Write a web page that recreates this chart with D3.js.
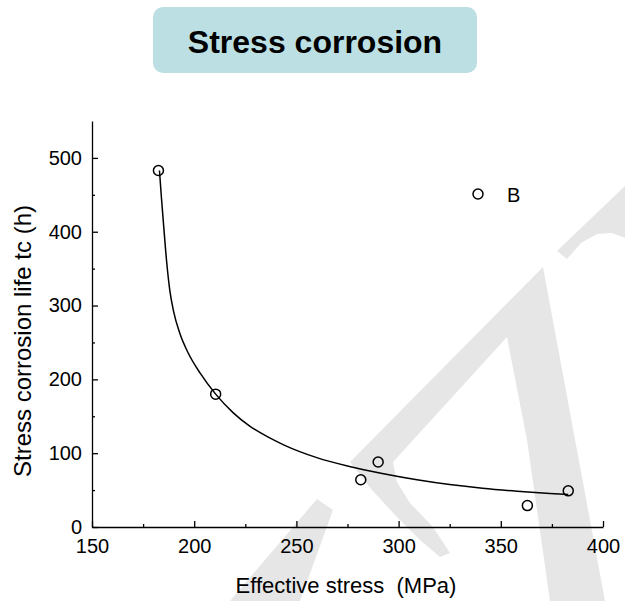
<!DOCTYPE html>
<html>
<head>
<meta charset="utf-8">
<script src="https://cdn.jsdelivr.net/npm/d3@7"></script>
<style>
  body { margin: 0; background: #fff; }
  svg text { font-family: "Liberation Sans", Arial, sans-serif; fill: #000; }
</style>
</head>
<body>
<div id="chart"></div>
<script>
// measured points (Effective stress MPa, life h)
let stressPts = [182.5, 210.5, 281.5, 290, 363, 383];
let lifePts = [483, 180, 64, 88, 29, 49];

// fitted curve
let fitStress = [183, 184, 185, 186.5, 188, 190, 193, 197, 203, 210.5, 219, 227, 236, 244, 260, 276, 292, 309, 325, 341, 358, 374, 383];
let fitLife = [483, 445, 410, 360, 322, 291, 262, 236, 208, 180, 155, 137, 122, 111, 94, 82, 72.5, 64, 57.5, 52.5, 48.5, 45.5, 44];

let xTicks = [150, 200, 250, 300, 350, 400];
let yTicks = [0, 100, 200, 300, 400, 500];
let legendName = "B";

let svg = d3.select("#chart")
	.append("svg")
	.attr("width", 625)
	.attr("height", 601);

//background watermark shapes
let wm = svg.append("g").attr("fill", "#e6e6e6");
let wmShapes = [
	[[605,601],[543,267],[350,462],[372,490],[395,515],[420,540],[440,557],[450,553],[433,527],[410,503],[397,482],[393,462],[507,337],[527,440],[550,601]],
	[[317,499],[333,510],[300,601],[230,601]],
	[[557,251],[625,186],[625,238],[612,233],[597,234],[581,243],[567,259]]
];
wmShapes.forEach(function(p) {
	wm.append("path").attr("d", "M" + p.join("L") + "Z");
});

//title box
svg.append("rect")
	.attr("x", 153).attr("y", 7)
	.attr("width", 324).attr("height", 66)
	.attr("rx", 10)
	.attr("fill", "#bbdfe3");
svg.append("text")
	.attr("x", 315).attr("y", 53)
	.attr("text-anchor", "middle")
	.style("font-size", "32px")
	.style("font-weight", "bold")
	.text("Stress corrosion");

//scales
let x = d3.scaleLinear().domain([150, 400]).range([92, 603]),
	y = d3.scaleLinear().domain([0, 550]).range([527, 121]);

//minor ticks
svg.append("g")
	.attr("transform", "translate(0,527)")
	.call(d3.axisBottom(x).tickValues([175, 225, 275, 325, 375]).tickSize(-3).tickFormat(""))
	.call(g => g.select(".domain").remove());
svg.append("g")
	.attr("transform", "translate(92,0)")
	.call(d3.axisLeft(y).tickValues([50, 150, 250, 350, 450]).tickSize(-3).tickFormat(""))
	.call(g => g.select(".domain").remove());

//x axis
svg.append("g")
	.attr("class", "axis axis-x")
	.attr("transform", "translate(0,527)")
	.call(d3.axisBottom(x).tickValues(xTicks).tickSizeInner(-6).tickSizeOuter(0).tickPadding(12))
	.call(g => g.selectAll("text").style("font-size", "20px"));

//y axis
svg.append("g")
	.attr("class", "axis axis-y")
	.attr("transform", "translate(92,0)")
	.call(d3.axisLeft(y).tickValues(yTicks).tickSizeInner(-6).tickSizeOuter(0).tickPadding(10))
	.call(g => g.selectAll("text").style("font-size", "20px"));

svg.selectAll(".tick line, .domain")
	.attr("stroke", "#000")
	.style("stroke-width", 1.3);

//axis titles
svg.append("text")
	.attr("x", 346).attr("y", 593)
	.attr("text-anchor", "middle")
	.style("font-size", "22px")
	.style("white-space", "pre")
	.text("Effective stress  (MPa)");
svg.append("text")
	.attr("transform", "translate(31,341) rotate(-90)")
	.attr("text-anchor", "middle")
	.style("font-size", "24px")
	.text("Stress corrosion life tc (h)");

//fitted curve
let fitData = fitStress.map(function(s, i) { return {s: s, t: fitLife[i]}; });
svg.append("path")
	.datum(fitData)
	.attr("fill", "none")
	.attr("stroke", "#000")
	.attr("stroke-width", 1.5)
	.attr("d", d3.line()
		.x(function(d) { return x(d.s); })
		.y(function(d) { return y(d.t); })
		.curve(d3.curveMonotoneX));

//points
let pts = stressPts.map(function(s, i) { return {s: s, t: lifePts[i]}; });
svg.selectAll(".dot")
	.data(pts)
	.enter()
	.append("circle")
	.attr("class", "dot")
	.attr("r", 5)
	.attr("cx", function(d) { return x(d.s); })
	.attr("cy", function(d) { return y(d.t); })
	.attr("fill", "none")
	.attr("stroke", "#000")
	.attr("stroke-width", 1.5);

//legend
svg.append("circle")
	.attr("cx", 478).attr("cy", 194).attr("r", 5)
	.attr("fill", "none").attr("stroke", "#000").attr("stroke-width", 1.5);
svg.append("text")
	.attr("x", 507).attr("y", 202)
	.style("font-size", "20px")
	.text(legendName);
</script>
</body>
</html>
